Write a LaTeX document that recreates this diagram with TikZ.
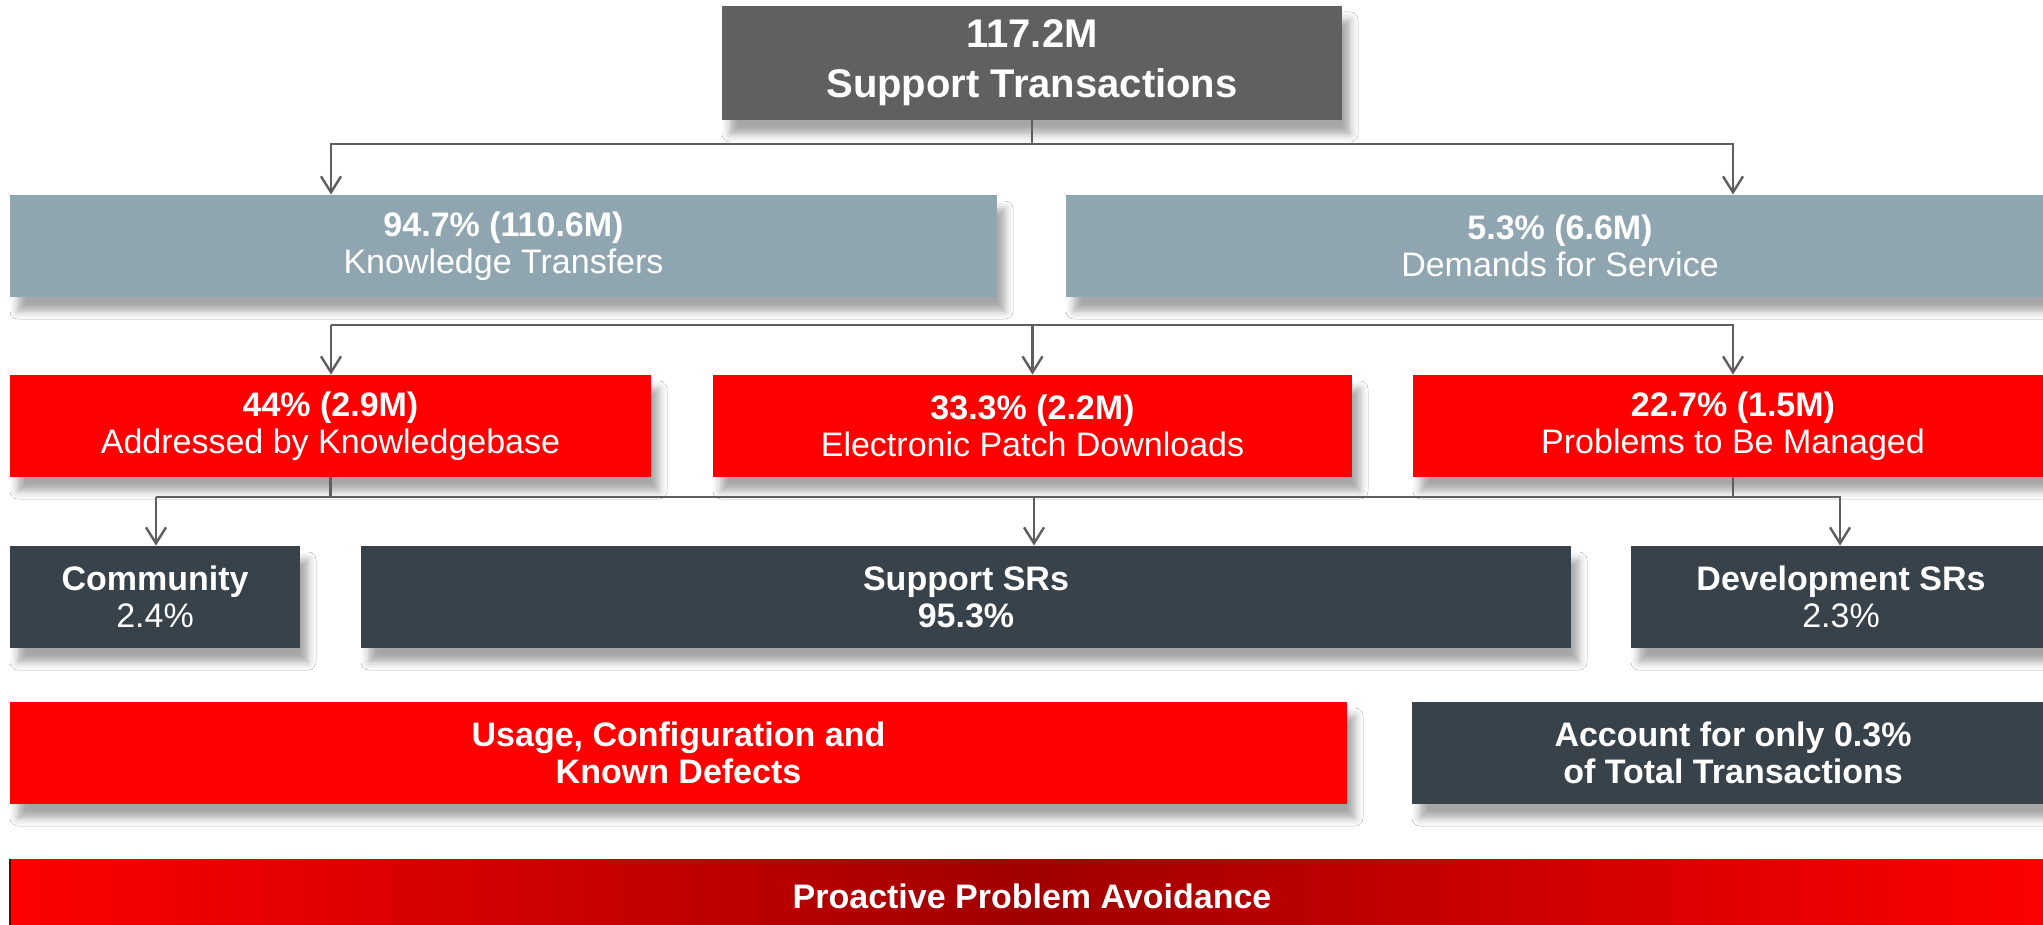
\documentclass[tikz,border=0pt]{standalone}
\usepackage{fontspec}
\setmainfont{Liberation Sans}
\usetikzlibrary{arrows.meta,shadows.blur}
\definecolor{topgray}{HTML}{606060}
\definecolor{bluegray}{HTML}{8FA6B1}
\definecolor{oared}{HTML}{FF0000}
\definecolor{slate}{HTML}{37424A}
\definecolor{conn}{HTML}{5E5E5E}
\definecolor{deepred}{HTML}{A00000}
\begin{document}
\begin{tikzpicture}[x=0.5pt,y=-0.5pt,
  box/.style={rectangle, inner sep=0pt, text=white, align=center,
    minimum height=51pt, font=\fontsize{17}{18.5}\selectfont,
    blur shadow={shadow xshift=4pt, shadow yshift=-7pt, shadow blur radius=4pt, shadow opacity=35}},
  titlebox/.style={box, fill=topgray, minimum height=57pt, font=\fontsize{20}{25}\selectfont\bfseries},
  kbox/.style={box, fill=bluegray},
  rbox/.style={box, fill=oared},
  dbox/.style={box, fill=slate},
  link/.style={draw=conn, line width=1.2pt},
  arr/.style={link, -{Straight Barb[length=8pt,width=10pt,line width=1.2pt]}}
]
\path[use as bounding box, fill=white] (0,0) rectangle (2043,925);

% row 0
\node[titlebox, minimum width=310pt] (top) at (1032,63) {117.2M\\Support Transactions};
% row 1
\node[kbox, minimum width=493.5pt] (kt) at (503.5,246) {\textbf{94.7\% (110.6M)}\\Knowledge Transfers};
\node[kbox, minimum width=494pt] (ds) at (1560,246) {\textbf{5.3\% (6.6M)}\\Demands for Service};
% row 2
\node[rbox, minimum width=320.5pt] (ak) at (330.5,426) {\textbf{44\% (2.9M)}\\Addressed by Knowledgebase};
\node[rbox, minimum width=319.5pt] (epd) at (1032.5,426) {\textbf{33.3\% (2.2M)}\\Electronic Patch Downloads};
\node[rbox, minimum width=320pt] (pm) at (1733,426) {\textbf{22.7\% (1.5M)}\\Problems to Be Managed};
% row 3
\node[dbox, minimum width=145pt] (com) at (155,597) {\textbf{Community}\\2.4\%};
\node[dbox, minimum width=605pt] (ssr) at (966,597) {\textbf{Support SRs}\\\textbf{95.3\%}};
\node[dbox, minimum width=210pt] (dsr) at (1841,597) {\textbf{Development SRs}\\2.3\%};
% row 4
\node[rbox, minimum width=668.5pt] (usage) at (678.5,753) {\textbf{Usage, Configuration and}\\\textbf{Known Defects}};
\node[dbox, minimum width=321pt] (acc) at (1733,753) {\textbf{Account for only 0.3\%}\\\textbf{of Total Transactions}};
% row 5
\node[rectangle, inner sep=0pt, minimum width=1022pt, minimum height=37pt,
      left color=oared, right color=oared, middle color=deepred,
      text=white, font=\fontsize{17}{18.5}\selectfont\bfseries] (pro) at (1032,896) {Proactive Problem Avoidance};
\draw[deepred!70!black, line width=1pt] (pro.north west) -- (pro.south west);

% connectors row 0 -> 1
\coordinate (j0) at (1032,144);
\coordinate (a1) at (331,144);
\coordinate (a2) at (1733,144);
\draw[link] (top.south) -- (j0);
\draw[arr] (j0) -- (a1) -- (a1 |- kt.north);
\draw[arr] (j0) -- (a2) -- (a2 |- ds.north);

% connectors row 1 -> 2
\coordinate (b1) at (331,325);
\coordinate (b3) at (1733,325);
\draw[arr] (b1) -- (b1 |- ak.north);
\draw[arr] (b1) -- (b3) -- (b3 |- pm.north);
\draw[arr] (b1 -| epd.north) -- (epd.north);

% connectors row 2 -> 3
\coordinate (c1) at (156,497);
\coordinate (c2) at (1034,497);
\coordinate (c3) at (1840,497);
\draw[link] (ak.south) -- (ak.south |- c1);
\draw[link] (pm.south) -- (pm.south |- c1);
\draw[arr] (c1) -- (c1 |- com.north);
\draw[arr] (c1) -- (c3) -- (c3 |- dsr.north);
\draw[arr] (c2) -- (c2 |- ssr.north);
\end{tikzpicture}
\end{document}
